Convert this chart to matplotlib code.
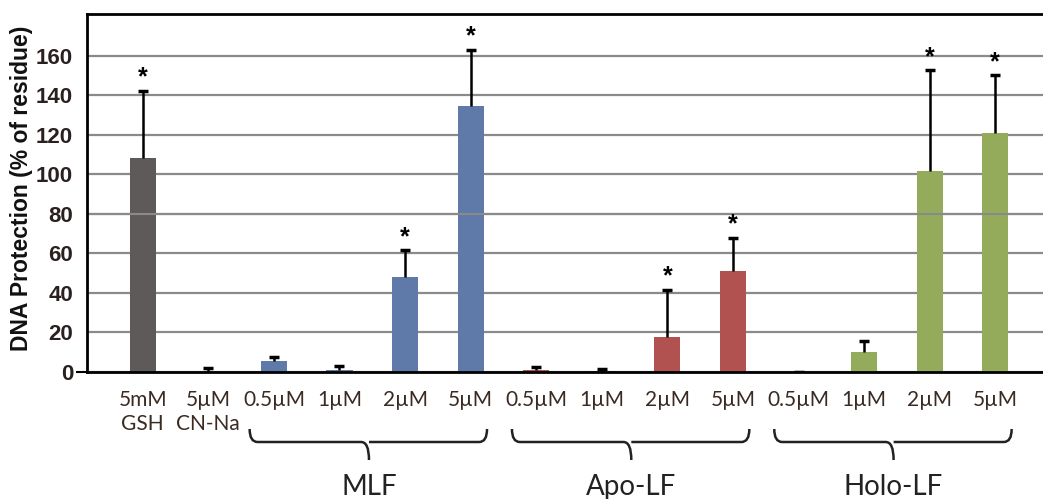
import matplotlib.pyplot as plt
from matplotlib.path import Path
from matplotlib.patches import PathPatch
from matplotlib.transforms import blended_transform_factory

# valores
etiquetas = ['5mM\nGSH', '5µM\nCN-Na',
             '0.5µM', '1µM', '2µM', '5µM',
             '0.5µM', '1µM', '2µM', '5µM',
             '0.5µM', '1µM', '2µM', '5µM']
proteccion = [108, 0, 5.5, 1, 48, 134.5, 1, 0.5, 17.5, 51, 0, 10.3, 101.5, 121]
error = [34, 2, 2.2, 2, 13.5, 28.5, 1.5, 1, 24, 17, 0, 5.4, 51, 29]
significativo = [True, False, False, False, True, True, False, False, True, True,
                 False, False, True, True]
grupos = ['MLF', 'Apo-LF', 'Holo-LF']
inicio_grupo = [2, 6, 10]

gris = '#5f5a5a'
azul = '#5f7aa8'
rojo = '#b25250'
verde = '#94ab5c'
colores = [gris, gris] + [azul] * 4 + [rojo] * 4 + [verde] * 4

fig = plt.figure(figsize=(10.43, 4.99), dpi=100)
ax = fig.add_axes([87 / 1043, 1 - 372 / 499, 964 / 1043, 358 / 499])

x = list(range(len(proteccion)))

ax.bar(x, proteccion, width=0.4, color=colores, zorder=2)
barras_error = ax.errorbar(x, proteccion, yerr=[[0] * len(error), error], fmt='none',
                           ecolor='black', elinewidth=1.8, capsize=3.5,
                           capthick=2.5, zorder=3)
# solo la tapa de arriba
barras_error[1][0].set_visible(False)
# la linea de 80 queda por encima de las barras en el original
ax.axhline(80, color='#8a8a8a', lw=1.5, zorder=2.5)

for i in x:
    if significativo[i]:
        ax.annotate('*', (i, proteccion[i] + error[i]), xytext=(0, 1),
                    textcoords='offset points', ha='center', va='bottom',
                    fontsize=18, fontweight='bold', family='Liberation Sans')

ax.set_xlim(-0.85, 13.85)
ax.set_ylim(0, 181)
ax.set_yticks(range(0, 161, 20))
ax.yaxis.grid(True, color='#8a8a8a', lw=1.6, zorder=0)
ax.set_axisbelow(True)

for s in ['left', 'top', 'bottom']:
    ax.spines[s].set_linewidth(2)
    ax.spines[s].set_color('black')
ax.spines['right'].set_visible(False)

ax.tick_params(axis='y', length=0, pad=10, labelsize=16, labelcolor='#2a2020')
for t in ax.get_yticklabels():
    t.set_fontweight('bold')
    t.set_family('Liberation Sans')
ax.yaxis.get_major_ticks()[0].tick1line.set_markersize(8)
ax.yaxis.get_major_ticks()[0].tick1line.set_markeredgewidth(1.5)

ax.set_xticks(x)
ax.set_xticklabels(etiquetas, family='Lato', fontsize=15, color='#3a2a22',
                   linespacing=1.25)
ax.tick_params(axis='x', length=0, pad=13)

ax.set_ylabel('DNA Protection (% of residue)', fontsize=16.5, fontweight='bold',
              family='Liberation Sans', color='#111111')
ax.yaxis.set_label_coords(-54 / 964, 0.514)

# llaves de los grupos
trans = blended_transform_factory(ax.transData, fig.transFigure)
y_arriba = 1 - 429 / 499
y_linea = 1 - 442 / 499
y_punta = 1 - 460 / 499
r = 0.12
for g, a in zip(grupos, inicio_grupo):
    izq = a - 0.37
    der = a + 3.25
    cen = a + 1.45
    verts = [(izq, y_arriba), (izq, y_linea), (izq + r, y_linea),
             (cen - r, y_linea), (cen, y_linea), (cen, y_punta),
             (cen, y_linea), (cen + r, y_linea),
             (der - r, y_linea), (der, y_linea), (der, y_arriba)]
    codes = [Path.MOVETO, Path.CURVE3, Path.CURVE3,
             Path.LINETO, Path.CURVE3, Path.CURVE3,
             Path.MOVETO, Path.LINETO,
             Path.LINETO, Path.CURVE3, Path.CURVE3]
    llave = PathPatch(Path(verts, codes), transform=trans, fill=False,
                      lw=1.8, color='#222222', clip_on=False)
    fig.add_artist(llave)
    fig.text(cen, 1 - 495 / 499, g, transform=trans, ha='center',
             va='baseline', family='Lato', fontsize=20, color='#222222')

fig.savefig('out.png', dpi=100)
